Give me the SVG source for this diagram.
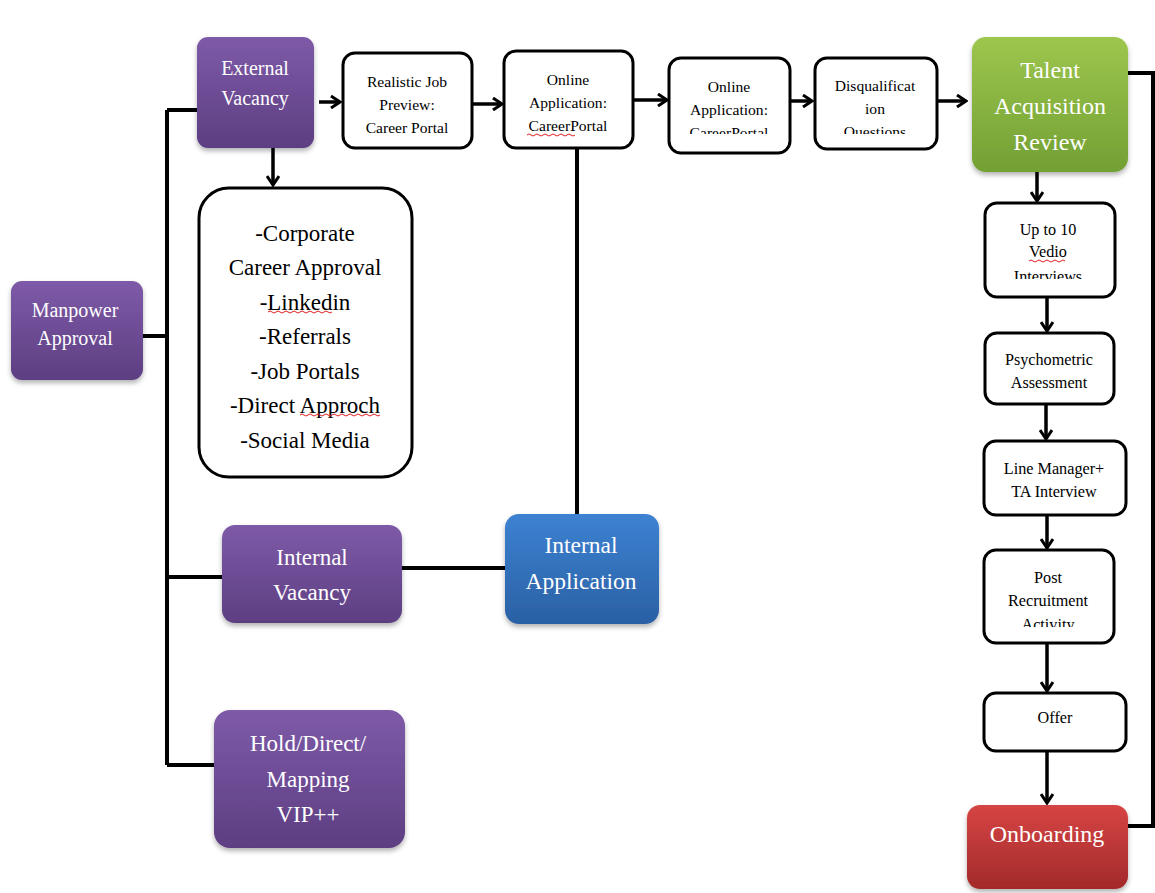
<svg xmlns="http://www.w3.org/2000/svg" width="1155" height="893" viewBox="0 0 1155 893">
<style>
.w{fill:#fff;stroke:#000;stroke-width:3}
.t{font-family:"Liberation Serif","Times New Roman",serif;text-anchor:middle;fill:#000}
.tw{font-family:"Liberation Serif","Times New Roman",serif;text-anchor:middle;fill:#fff}
.s{font-size:15.6px}
.r{font-size:16.2px}
.c{fill:none;stroke:#000;stroke-width:4}
.a{fill:none;stroke:#000;stroke-width:3.5}
.sq{fill:none;stroke:#e02020;stroke-width:1}
</style>
<defs>
<linearGradient id="gp" x1="0" y1="0" x2="0" y2="1"><stop offset="0" stop-color="#7e5aa8"/><stop offset="1" stop-color="#5d3e82"/></linearGradient>
<linearGradient id="gg" x1="0" y1="0" x2="0" y2="1"><stop offset="0" stop-color="#9dc64e"/><stop offset="1" stop-color="#72a033"/></linearGradient>
<linearGradient id="gb" x1="0" y1="0" x2="0" y2="1"><stop offset="0" stop-color="#3d82d2"/><stop offset="1" stop-color="#2a60a4"/></linearGradient>
<linearGradient id="gr" x1="0" y1="0" x2="0" y2="1"><stop offset="0" stop-color="#d64444"/><stop offset="1" stop-color="#a32a2a"/></linearGradient>
<filter id="sh" x="-10%" y="-10%" width="120%" height="130%"><feDropShadow dx="0" dy="3" stdDeviation="2.5" flood-color="#000" flood-opacity="0.3"/></filter>
<marker id="ar" viewBox="0 0 12 14" markerWidth="12" markerHeight="14" refX="10" refY="7" orient="auto" markerUnits="userSpaceOnUse"><path d="M1,1 L10,7 L1,13" fill="none" stroke="#000" stroke-width="3"/></marker>
<clipPath id="c1"><rect x="669" y="58" width="121" height="76"/></clipPath>
<clipPath id="c2"><rect x="814" y="58" width="123" height="76"/></clipPath>
<clipPath id="c3"><rect x="984" y="203" width="131" height="76"/></clipPath>
<clipPath id="c4"><rect x="984" y="550" width="131" height="77"/></clipPath>
</defs>

<g id="connectors">
<path class="c" d="M167,110 V765"/>
<path class="c" d="M143,336 H167"/>
<path class="c" d="M167,110 H197"/>
<path class="c" d="M167,577 H222"/>
<path class="c" d="M167,765 H214"/>
<path class="c" d="M402,568 H505"/>
<path class="c" d="M577,148 V514"/>
<path class="c" d="M1128,73 H1153 V826 H1128"/>
<path class="a" d="M319,102 H340" marker-end="url(#ar)"/>
<path class="a" d="M473,104 H502" marker-end="url(#ar)"/>
<path class="a" d="M634,100 H667" marker-end="url(#ar)"/>
<path class="a" d="M790,101 H812" marker-end="url(#ar)"/>
<path class="a" d="M937,101 H966" marker-end="url(#ar)"/>
<path class="a" d="M273,148 V185" marker-end="url(#ar)"/>
<path class="a" d="M1037,172 V201" marker-end="url(#ar)"/>
<path class="a" d="M1047,297 V331" marker-end="url(#ar)"/>
<path class="a" d="M1046,404 V439" marker-end="url(#ar)"/>
<path class="a" d="M1047,515 V548" marker-end="url(#ar)"/>
<path class="a" d="M1047,643 V691" marker-end="url(#ar)"/>
<path class="a" d="M1047,752 V803" marker-end="url(#ar)"/>
</g>

<g id="manpower">
<rect x="11" y="281" width="132" height="99" rx="11" fill="url(#gp)" filter="url(#sh)"/>
<text class="tw" font-size="20" x="75" y="317">Manpower</text>
<text class="tw" font-size="20" x="75" y="345">Approval</text>
</g>

<g id="external">
<rect x="197" y="37" width="117" height="111" rx="11" fill="url(#gp)" filter="url(#sh)"/>
<text class="tw" font-size="20" x="255" y="75">External</text>
<text class="tw" font-size="20" x="255" y="105">Vacancy</text>
</g>

<g id="realistic">
<rect class="w" x="343" y="53" width="129" height="95" rx="12"/>
<text class="t s" x="407" y="87">Realistic Job</text>
<text class="t s" x="407" y="110">Preview:</text>
<text class="t s" x="407" y="133">Career Portal</text>
</g>

<g id="online1">
<rect class="w" x="504" y="51" width="129" height="97" rx="12"/>
<text class="t s" x="568" y="85">Online</text>
<text class="t s" x="568" y="108">Application:</text>
<text class="t s" x="568" y="131">CareerPortal</text>
<path class="sq" d="M527,135 q2,-2 4,0 t4,0 t4,0 t4,0 t4,0 t4,0 t4,0 t4,0 t4,0 t4,0 t4,0 t4,0"/>
</g>

<g id="online2">
<rect class="w" x="669" y="58" width="121" height="95" rx="12"/>
<g clip-path="url(#c1)">
<text class="t s" x="729" y="92">Online</text>
<text class="t s" x="729" y="115">Application:</text>
<text class="t s" x="729" y="138">CareerPortal</text>
</g>
</g>

<g id="disq">
<rect class="w" x="815" y="58" width="122" height="91" rx="12"/>
<g clip-path="url(#c2)">
<text class="t s" x="875" y="91">Disqualificat</text>
<text class="t s" x="875" y="114">ion</text>
<text class="t s" x="875" y="137">Questions</text>
</g>
</g>

<g id="talent">
<rect x="972" y="37" width="156" height="135" rx="14" fill="url(#gg)" filter="url(#sh)"/>
<text class="tw" font-size="24" x="1050" y="78">Talent</text>
<text class="tw" font-size="24" x="1050" y="114">Acquisition</text>
<text class="tw" font-size="24" x="1050" y="150">Review</text>
</g>

<g id="corporate">
<rect class="w" x="199" y="188" width="213" height="289" rx="30"/>
<text class="t" font-size="23" x="305" y="241">-Corporate</text>
<text class="t" font-size="23" x="305" y="275">Career Approval</text>
<text class="t" font-size="23" x="305" y="310">-Linkedin</text>
<text class="t" font-size="23" x="305" y="344">-Referrals</text>
<text class="t" font-size="23" x="305" y="379">-Job Portals</text>
<text class="t" font-size="23" x="305" y="413">-Direct Approch</text>
<text class="t" font-size="23" x="305" y="448">-Social Media</text>
<path class="sq" d="M268,312 q2,-2 4,0 t4,0 t4,0 t4,0 t4,0 t4,0 t4,0 t4,0 t4,0 t4,0 t4,0 t4,0 t4,0 t4,0 t4,0 t4,0"/>
<path class="sq" d="M300,415 q2,-2 4,0 t4,0 t4,0 t4,0 t4,0 t4,0 t4,0 t4,0 t4,0 t4,0 t4,0 t4,0 t4,0 t4,0 t4,0 t4,0 t4,0 t4,0 t4,0 t4,0"/>
</g>

<g id="internalvacancy">
<rect x="222" y="525" width="180" height="98" rx="13" fill="url(#gp)" filter="url(#sh)"/>
<text class="tw" font-size="23" x="312" y="565">Internal</text>
<text class="tw" font-size="23" x="312" y="600">Vacancy</text>
</g>

<g id="internalapplication">
<rect x="505" y="514" width="154" height="110" rx="14" fill="url(#gb)" filter="url(#sh)"/>
<text class="tw" font-size="23.5" x="581" y="553">Internal</text>
<text class="tw" font-size="23.5" x="581" y="589">Application</text>
</g>

<g id="hold">
<rect x="214" y="710" width="191" height="138" rx="16" fill="url(#gp)" filter="url(#sh)"/>
<text class="tw" font-size="23" x="308" y="751">Hold/Direct/</text>
<text class="tw" font-size="23" x="308" y="787">Mapping</text>
<text class="tw" font-size="23" x="308" y="822">VIP++</text>
</g>

<g id="video">
<rect class="w" x="985" y="203" width="130" height="94" rx="12"/>
<g clip-path="url(#c3)">
<text class="t r" x="1048" y="235">Up to 10</text>
<text class="t r" x="1048" y="257">Vedio</text>
<text class="t r" x="1048" y="282">Interviews</text>
</g>
<path class="sq" d="M1029,261 q2,-2 4,0 t4,0 t4,0 t4,0 t4,0 t4,0 t4,0 t4,0 t4,0"/>
</g>

<g id="psychometric">
<rect class="w" x="985" y="333" width="129" height="71" rx="12"/>
<text class="t r" x="1049" y="365">Psychometric</text>
<text class="t r" x="1049" y="388">Assessment</text>
</g>

<g id="linemanager">
<rect class="w" x="984" y="441" width="142" height="74" rx="12"/>
<text class="t r" x="1054" y="474">Line Manager+</text>
<text class="t r" x="1054" y="497">TA Interview</text>
</g>

<g id="post">
<rect class="w" x="984" y="550" width="130" height="93" rx="12"/>
<g clip-path="url(#c4)">
<text class="t r" x="1048" y="583">Post</text>
<text class="t r" x="1048" y="606">Recruitment</text>
<text class="t r" x="1048" y="630">Activity</text>
</g>
</g>

<g id="offer">
<rect class="w" x="984" y="693" width="142" height="58" rx="12"/>
<text class="t r" x="1055" y="723">Offer</text>
</g>

<g id="onboarding">
<rect x="967" y="805" width="161" height="84" rx="13" fill="url(#gr)" filter="url(#sh)"/>
<text class="tw" font-size="24" x="1047" y="842">Onboarding</text>
</g>
</svg>
